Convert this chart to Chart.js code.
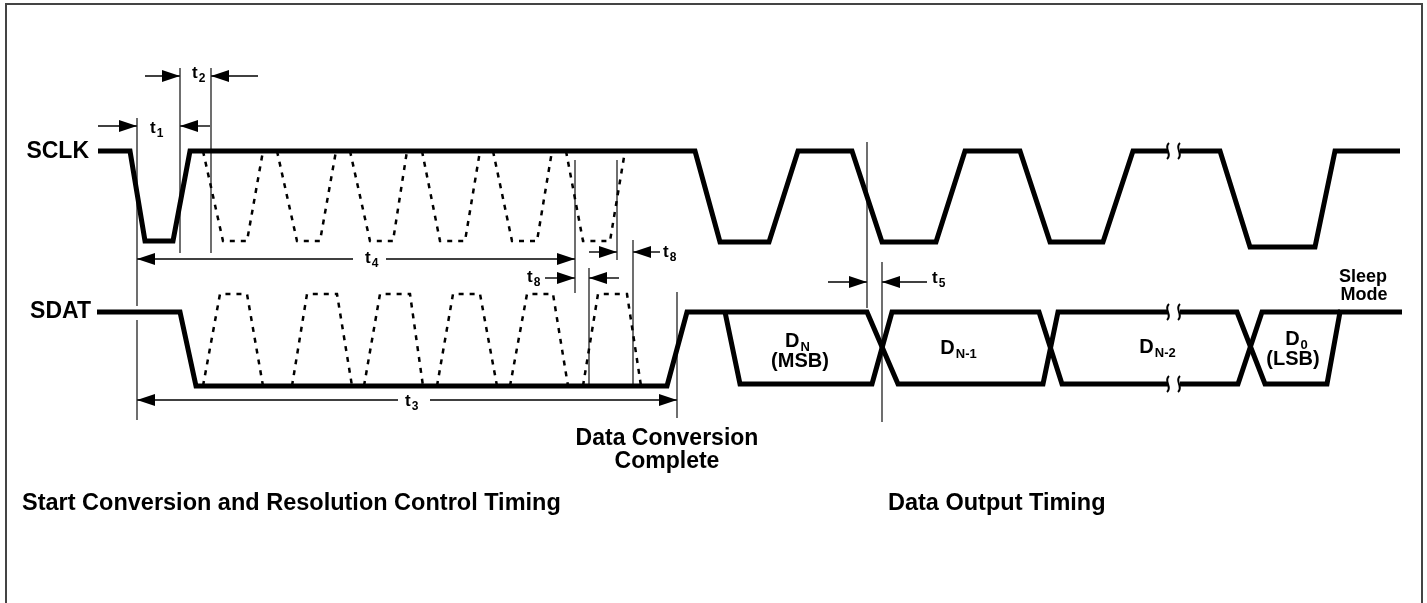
<!DOCTYPE html>
<html>
<head>
<meta charset="utf-8">
<script src="https://cdn.jsdelivr.net/npm/chart.js@4.4.1/dist/chart.umd.min.js"></script>
<style>
html,body{margin:0;padding:0;background:#fff;}
#wrap{width:1427px;height:603px;}
</style>
</head>
<body>
<div id="wrap"><canvas id="timing" width="1427" height="603"></canvas></div>
<script>
// units: x = time along the sheet, y = sheet height (downwards)

// SCLK solid trace (null = break mark)
var sclkX = [98,130,145,173,190,695,720,769,798,852,882,936,965,1020,1050,1103,1133,1168,1174,1180,1220,1250,1315,1335,1400];
var sclkY = [151,151,241,241,151,151,242,242,151,151,242,242,151,151,242,242,151,151,null,151,151,247,247,151,151];

// SCLK dashed pulses: fall start, low start, low end, rise end
var sclkDashed = [[203,223,247,263],[277,297,320,336],[350,370,393,407],[422,440,465,480],[493,512,537,552],[566,583,610,625]];
var sclkDashedY = [151,241,241,151];

// SDAT traces (two strokes that make up the bus)
var sdatAX = [97,180,196,667,687,867,898,1043,1058,1168,1174,1180,1237,1265,1327,1340,1402];
var sdatAY = [312,312,386,386,312,312,384,384,312,312,null,312,312,384,384,312,312];
var sdatBX = [725,740,872,892,1039,1062,1168,1174,1180,1238,1262,1340];
var sdatBY = [312,384,384,312,312,384,384,null,384,384,312,312];

// SDAT dashed pulses: rise start, high start, high end, fall end
var sdatDashed = [[203,220,247,263],[292,307,337,352],[364,380,410,423],[437,453,480,497],[510,527,553,568],[583,598,627,641]];
var sdatDashedY = [386,294,294,386];

// thin reference lines
var markerX      = [137,137,180,211,575,617,589,633,677,867,882];
var markerTop    = [118,320,68,68,160,160,268,240,292,142,262];
var markerBottom = [306,420,253,253,293,260,385,385,418,308,422];

// dimension arrows: start, head, level
var arrowFrom = [98,210,145,258,353,386,589,660,545,619,398,430,828,927];
var arrowTo   = [137,180,180,211,137,575,617,633,575,589,137,677,867,882];
var arrowY    = [126,126,76,76,259,259,252,252,278,278,400,400,282,282];

// timing labels
var tSub = ['1','2','4','8','8','3','5'];
var tX   = [150,192,365,663,527,405,932];
var tY   = [133,78,263,257,282,406,283];

// break marks
var breakX = [1168,1179];
var breakY = [151,312,384];

function pts(xs, ys) {
	var out = [];
	for (var i = 0; i < xs.length; i++) out.push({x: xs[i], y: ys[i]});
	return out;
}

var datasets = [];
function addLine(data, width, dash, color, extra) {
	var ds = {
		data: data, showLine: true, pointRadius: 0, borderColor: color || '#000',
		borderWidth: width, borderDash: dash || [], fill: false, tension: 0,
		spanGaps: false, borderJoinStyle: 'miter', borderCapStyle: 'butt'
	};
	for (var k in extra) ds[k] = extra[k];
	datasets.push(ds);
}

for (var i = 0; i < sclkDashed.length; i++) addLine(pts(sclkDashed[i], sclkDashedY), 2.5, [5,6]);
for (var i = 0; i < sdatDashed.length; i++) addLine(pts(sdatDashed[i], sdatDashedY), 2.5, [5,6]);
addLine(pts(sclkX, sclkY), 5);
addLine(pts(sdatAX, sdatAY), 5);
addLine(pts(sdatBX, sdatBY), 5);
for (var i = 0; i < markerX.length; i++) addLine([{x: markerX[i], y: markerTop[i]}, {x: markerX[i], y: markerBottom[i]}], 1.3, [], '#222');
for (var i = 0; i < arrowFrom.length; i++) addLine([{x: arrowFrom[i], y: arrowY[i]}, {x: arrowTo[i], y: arrowY[i]}], 1.4, [], '#000', {arrow: true});

function subText(ctx, x, y, main, sub, size, subSize, align) {
	ctx.font = 'bold ' + size + 'px "Liberation Sans", Arial, sans-serif';
	var w1 = ctx.measureText(main).width;
	ctx.font = 'bold ' + subSize + 'px "Liberation Sans", Arial, sans-serif';
	var w2 = ctx.measureText(sub).width;
	var x0 = align === 'center' ? x - (w1 + w2) / 2 : x;
	ctx.textAlign = 'left';
	ctx.font = 'bold ' + size + 'px "Liberation Sans", Arial, sans-serif';
	ctx.fillText(main, x0, y);
	ctx.font = 'bold ' + subSize + 'px "Liberation Sans", Arial, sans-serif';
	ctx.fillText(sub, x0 + w1 + 1, y + 4);
}

var decor = {
	id: 'decor',
	afterDatasetsDraw: function(chart) {
		var ctx = chart.ctx;
		var sx = chart.scales.x, sy = chart.scales.y;
		ctx.save();
		// arrow heads
		ctx.fillStyle = '#000';
		chart.data.datasets.forEach(function(ds, di) {
			if (!ds.arrow) return;
			var el = chart.getDatasetMeta(di).data;
			var a = el[0], b = el[1];
			var dir = b.x > a.x ? 1 : -1;
			ctx.beginPath();
			ctx.moveTo(b.x, b.y);
			ctx.lineTo(b.x - dir * 18, b.y - 6);
			ctx.lineTo(b.x - dir * 18, b.y + 6);
			ctx.closePath();
			ctx.fill();
		});
		// break marks
		ctx.strokeStyle = '#000';
		ctx.lineWidth = 2;
		breakY.forEach(function(yv) {
			breakX.forEach(function(xv) {
				var px = sx.getPixelForValue(xv), py = sy.getPixelForValue(yv);
				ctx.beginPath();
				ctx.moveTo(px + 1, py - 8);
				ctx.bezierCurveTo(px - 5, py - 3, px + 5, py + 3, px - 1, py + 8);
				ctx.stroke();
			});
		});
		// text
		ctx.fillStyle = '#000';
		ctx.textBaseline = 'alphabetic';
		function P(x, y) { return [sx.getPixelForValue(x), sy.getPixelForValue(y)]; }
		var p;
		ctx.font = 'bold 23px "Liberation Sans", Arial, sans-serif';
		ctx.textAlign = 'right';
		p = P(89, 158); ctx.fillText('SCLK', p[0], p[1]);
		p = P(91, 318); ctx.fillText('SDAT', p[0], p[1]);
		ctx.textAlign = 'center';
		p = P(667, 445); ctx.fillText('Data Conversion', p[0], p[1]);
		p = P(667, 468); ctx.fillText('Complete', p[0], p[1]);
		ctx.textAlign = 'left';
		ctx.font = 'bold 23.5px "Liberation Sans", Arial, sans-serif';
		p = P(22, 510); ctx.fillText('Start Conversion and Resolution Control Timing', p[0], p[1]);
		p = P(888, 510); ctx.fillText('Data Output Timing', p[0], p[1]);
		ctx.font = 'bold 18px "Liberation Sans", Arial, sans-serif';
		ctx.textAlign = 'center';
		p = P(1363, 282); ctx.fillText('Sleep', p[0], p[1]);
		p = P(1364, 300); ctx.fillText('Mode', p[0], p[1]);
		ctx.font = 'bold 20px "Liberation Sans", Arial, sans-serif';
		p = P(800, 367); ctx.fillText('(MSB)', p[0], p[1]);
		p = P(1293, 365); ctx.fillText('(LSB)', p[0], p[1]);
		p = P(797, 347); subText(ctx, p[0], p[1], 'D', 'N', 20, 13, 'center');
		p = P(958, 354); subText(ctx, p[0], p[1], 'D', 'N-1', 20, 13, 'center');
		p = P(1157, 353); subText(ctx, p[0], p[1], 'D', 'N-2', 20, 13, 'center');
		p = P(1296, 345); subText(ctx, p[0], p[1], 'D', '0', 20, 13, 'center');
		for (var i = 0; i < tSub.length; i++) {
			p = P(tX[i], tY[i]);
			subText(ctx, p[0], p[1], 't', tSub[i], 17, 12, 'left');
		}
		// frame
		ctx.strokeStyle = '#444';
		ctx.lineWidth = 2;
		ctx.beginPath();
		ctx.moveTo(sx.getPixelForValue(6), sy.getPixelForValue(620));
		ctx.lineTo(sx.getPixelForValue(6), sy.getPixelForValue(4));
		ctx.lineTo(sx.getPixelForValue(1422), sy.getPixelForValue(4));
		ctx.lineTo(sx.getPixelForValue(1422), sy.getPixelForValue(620));
		ctx.stroke();
		ctx.restore();
	}
};

var chart = new Chart(document.getElementById('timing'), {
	type: 'scatter',
	data: {datasets: datasets},
	options: {
		responsive: false,
		animation: false,
		layout: {padding: 0},
		plugins: {legend: {display: false}, tooltip: {enabled: false}},
		scales: {
			x: {type: 'linear', min: 0, max: 1427, display: false},
			y: {type: 'linear', min: 0, max: 603, reverse: true, display: false}
		}
	},
	plugins: [decor]
});
</script>
</body>
</html>
